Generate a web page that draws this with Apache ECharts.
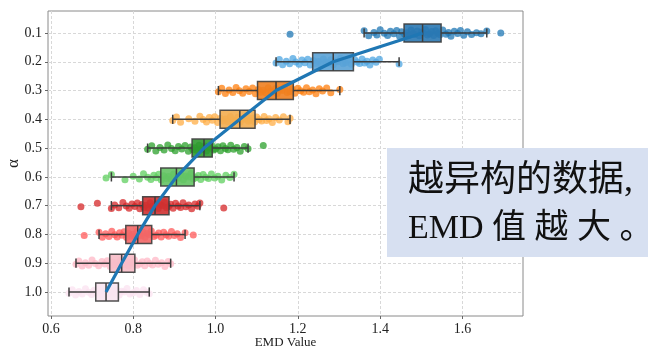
<!DOCTYPE html>
<html><head><meta charset="utf-8">
<script src="https://cdn.jsdelivr.net/npm/echarts@6/dist/echarts.min.js"></script>
<style>html,body{margin:0;padding:0;background:#fff}#c{width:648px;height:347px}</style>
</head><body><div id="c"></div>
<script>
// ---------- data ----------
const alphas = [0.1, 0.2, 0.3, 0.4, 0.5, 0.6, 0.7, 0.8, 0.9, 1.0];
const xTicks = [0.6, 0.8, 1.0, 1.2, 1.4, 1.6];

const boxLow  = [1.361, 1.147, 1.007, 0.896, 0.835, 0.747, 0.747, 0.717, 0.661, 0.644];
const boxQ1   = [1.458, 1.236, 1.102, 1.011, 0.943, 0.867, 0.823, 0.782, 0.743, 0.709];
const boxMed  = [1.503, 1.286, 1.147, 1.059, 0.972, 0.905, 0.853, 0.811, 0.772, 0.734];
const boxQ3   = [1.548, 1.335, 1.189, 1.096, 0.992, 0.948, 0.887, 0.845, 0.804, 0.764];
const boxHigh = [1.659, 1.446, 1.302, 1.181, 1.079, 1.045, 0.962, 0.926, 0.891, 0.839];

const pts01 = [1.181, 1.361, 1.372, 1.385, 1.392, 1.400, 1.410, 1.418, 1.425, 1.433, 1.440, 1.447, 1.452, 1.460, 1.465, 1.470, 1.475, 1.480, 1.485, 1.490, 1.495, 1.500, 1.505, 1.510, 1.515, 1.520, 1.525, 1.530, 1.535, 1.540, 1.545, 1.552, 1.560, 1.566, 1.572, 1.580, 1.588, 1.595, 1.603, 1.612, 1.622, 1.634, 1.645, 1.659, 1.693];
const pts02 = [1.147, 1.155, 1.163, 1.172, 1.180, 1.188, 1.195, 1.203, 1.210, 1.217, 1.224, 1.230, 1.238, 1.244, 1.250, 1.256, 1.262, 1.268, 1.274, 1.280, 1.286, 1.292, 1.298, 1.304, 1.310, 1.316, 1.322, 1.330, 1.338, 1.344, 1.350, 1.356, 1.362, 1.368, 1.375, 1.382, 1.390, 1.398, 1.446];
const pts03 = [1.007, 1.015, 1.024, 1.033, 1.042, 1.050, 1.058, 1.066, 1.074, 1.082, 1.090, 1.097, 1.104, 1.110, 1.116, 1.122, 1.128, 1.134, 1.140, 1.146, 1.150, 1.156, 1.162, 1.168, 1.174, 1.180, 1.186, 1.193, 1.200, 1.207, 1.214, 1.221, 1.228, 1.236, 1.244, 1.252, 1.260, 1.270, 1.280, 1.302];
const pts04 = [0.896, 0.905, 0.915, 0.935, 0.950, 0.962, 0.970, 0.978, 0.985, 0.992, 0.998, 1.005, 1.012, 1.018, 1.024, 1.030, 1.036, 1.042, 1.048, 1.054, 1.060, 1.065, 1.070, 1.075, 1.080, 1.085, 1.090, 1.095, 1.100, 1.106, 1.112, 1.118, 1.124, 1.130, 1.138, 1.146, 1.155, 1.165, 1.176, 1.181];
const pts05 = [0.835, 0.845, 0.855, 0.865, 0.875, 0.884, 0.893, 0.902, 0.910, 0.918, 0.926, 0.934, 0.940, 0.945, 0.950, 0.955, 0.960, 0.965, 0.970, 0.974, 0.978, 0.982, 0.986, 0.990, 0.995, 1.000, 1.006, 1.012, 1.018, 1.024, 1.030, 1.037, 1.044, 1.052, 1.060, 1.070, 1.079, 1.116];
const pts06 = [0.734, 0.747, 0.780, 0.800, 0.815, 0.825, 0.835, 0.843, 0.850, 0.856, 0.862, 0.868, 0.874, 0.880, 0.886, 0.892, 0.898, 0.904, 0.910, 0.916, 0.922, 0.928, 0.934, 0.940, 0.946, 0.952, 0.958, 0.964, 0.970, 0.976, 0.983, 0.990, 0.998, 1.006, 1.015, 1.025, 1.035, 1.045];
const pts07 = [0.673, 0.713, 0.747, 0.755, 0.765, 0.775, 0.783, 0.790, 0.797, 0.804, 0.810, 0.816, 0.821, 0.826, 0.831, 0.836, 0.841, 0.846, 0.851, 0.856, 0.861, 0.866, 0.871, 0.876, 0.881, 0.886, 0.891, 0.897, 0.903, 0.909, 0.915, 0.921, 0.928, 0.935, 0.942, 0.950, 0.957, 0.962, 1.020];
const pts08 = [0.681, 0.717, 0.725, 0.733, 0.741, 0.748, 0.755, 0.761, 0.767, 0.773, 0.778, 0.784, 0.789, 0.794, 0.799, 0.804, 0.809, 0.814, 0.819, 0.824, 0.829, 0.834, 0.839, 0.844, 0.850, 0.856, 0.862, 0.868, 0.874, 0.880, 0.886, 0.893, 0.900, 0.907, 0.915, 0.926, 0.946];
const pts09 = [0.661, 0.668, 0.676, 0.684, 0.692, 0.700, 0.708, 0.716, 0.724, 0.731, 0.737, 0.744, 0.749, 0.754, 0.759, 0.764, 0.769, 0.774, 0.779, 0.784, 0.789, 0.794, 0.799, 0.803, 0.810, 0.816, 0.822, 0.828, 0.834, 0.840, 0.847, 0.854, 0.861, 0.869, 0.877, 0.885, 0.891];
const pts10 = [0.644, 0.652, 0.660, 0.668, 0.676, 0.684, 0.692, 0.699, 0.705, 0.710, 0.715, 0.720, 0.725, 0.730, 0.735, 0.740, 0.745, 0.750, 0.755, 0.760, 0.766, 0.772, 0.778, 0.785, 0.792, 0.800, 0.808, 0.816, 0.825, 0.832, 0.839];
const points = [pts01, pts02, pts03, pts04, pts05, pts06, pts07, pts08, pts09, pts10];

// vertical strip jitter (alpha units), read as small scatter around each row
const jitter = [0.004, -0.008, 0.010, -0.002, 0.007, -0.011, 0.001, 0.009, -0.006, 0.003, -0.009, 0.011, -0.004, 0.006, -0.001, 0.008, -0.010, 0.002, 0.005, -0.007, 0.010, -0.003, 0.000, -0.012, 0.007, 0.003, -0.005, 0.009, -0.008, 0.001, 0.006, -0.010, 0.004, -0.002, 0.011, -0.006, 0.002, -0.009, 0.008, -0.004, 0.005, -0.001, 0.003, -0.007, 0.000];

// ---------- style ----------
const ptColors  = ['#1f77b4', '#4ea6e2', '#ff7f0e', '#ffad45', '#2ca02c', '#5fcf5f', '#d62728', '#ff5a5a', '#ffb7c5', '#fbe2f0'];
const boxColors = ['#2a78b2', '#5aa2d6', '#ee8020', '#f2ad50', '#2f9a2f', '#64c364', '#cf3131', '#f26767', '#f7bcc8', '#f9e6f1'];

const series = [];
points.forEach((arr, i) => {
  series.push({
    type: 'scatter', z: 2, silent: true,
    symbolSize: 7,
    itemStyle: { color: ptColors[i], opacity: 0.75 },
    data: arr.map((x, k) => [x, alphas[i] + jitter[k % jitter.length]])
  });
});

series.push({
  type: 'custom', z: 3, silent: true,
  data: alphas.map((a, i) => [a, boxLow[i], boxQ1[i], boxMed[i], boxQ3[i], boxHigh[i], i]),
  encode: { x: [1, 2, 3, 4, 5], y: 0 },
  renderItem: function (params, api) {
    const a = api.value(0);
    const idx = api.value(6);
    const h = api.size([0, 0.0625])[1];
    const capH = api.size([0, 0.032])[1];
    const pLow = api.coord([api.value(1), a]);
    const pQ1 = api.coord([api.value(2), a]);
    const pMed = api.coord([api.value(3), a]);
    const pQ3 = api.coord([api.value(4), a]);
    const pHigh = api.coord([api.value(5), a]);
    const ls = { stroke: '#3d3d3d', lineWidth: 1.5 };
    const y = pMed[1];
    return {
      type: 'group',
      children: [
        { type: 'line', shape: { x1: pLow[0], y1: y, x2: pQ1[0], y2: y }, style: ls },
        { type: 'line', shape: { x1: pQ3[0], y1: y, x2: pHigh[0], y2: y }, style: ls },
        { type: 'line', shape: { x1: pLow[0], y1: y - capH / 2, x2: pLow[0], y2: y + capH / 2 }, style: ls },
        { type: 'line', shape: { x1: pHigh[0], y1: y - capH / 2, x2: pHigh[0], y2: y + capH / 2 }, style: ls },
        { type: 'rect', shape: { x: pQ1[0], y: y - h / 2, width: pQ3[0] - pQ1[0], height: h },
          style: { fill: boxColors[idx], opacity: 0.9, stroke: '#3d3d3d', lineWidth: 1.5 } },
        { type: 'line', shape: { x1: pMed[0], y1: y - h / 2, x2: pMed[0], y2: y + h / 2 }, style: ls }
      ]
    };
  }
});

series.push({
  type: 'line', z: 4, silent: true,
  showSymbol: false, symbol: 'none',
  lineStyle: { color: '#1f77b4', width: 3.2 },
  data: boxMed.map((m, i) => [m, alphas[i]])
});

const serif = '"Liberation Serif", "Times New Roman", serif';
const chart = echarts.init(document.getElementById('c'), null, { renderer: 'canvas' });
chart.setOption({
  animation: false,
  backgroundColor: '#ffffff',
  grid: { left: 48, right: 125, top: 11, bottom: 31, outerBoundsMode: 'none', containLabel: false,
          show: true, borderColor: '#8a8a8a', borderWidth: 1, backgroundColor: 'transparent' },
  xAxis: {
    type: 'value', min: 0.593, max: 1.747,
    axisLine: { show: false },
    axisTick: { show: true, customValues: xTicks, length: 3, lineStyle: { color: '#666' } },
    axisLabel: { customValues: xTicks, formatter: v => v.toFixed(1), fontFamily: serif, fontSize: 14, color: '#222', margin: 6 },
    splitLine: { show: true, lineStyle: { color: '#d8d8d8', type: [3, 2], width: 1 } },
    name: 'EMD Value', nameLocation: 'middle', nameGap: 20, nameMoveOverlap: false,
    nameTextStyle: { fontFamily: serif, fontSize: 13, color: '#222' }
  },
  yAxis: {
    type: 'value', inverse: true, min: 0.0236, max: 1.0834,
    axisLine: { show: false },
    axisTick: { show: true, customValues: alphas, length: 3, lineStyle: { color: '#666' } },
    axisLabel: { customValues: alphas, formatter: v => v.toFixed(1), fontFamily: serif, fontSize: 14, color: '#222', margin: 6 },
    splitLine: { show: true, lineStyle: { color: '#d8d8d8', type: [3, 2], width: 1 } },
    name: 'α', nameLocation: 'middle', nameGap: 26, nameRotate: 90, nameMoveOverlap: false,
    nameTextStyle: { fontFamily: serif, fontSize: 17, color: '#222' }
  },
  series: series,
  graphic: [
    { type: 'rect', z: 100, shape: { x: 387, y: 148, width: 280, height: 109 }, style: { fill: '#d7e0f1' } },
    { type: 'text', z: 101, x: 408, y: 182,
      style: { text: '越异构的数据,', font: '36px "Liberation Serif", "Noto Sans CJK SC"', fill: '#111', verticalAlign: 'middle' } },
    { type: 'text', z: 101, x: 408, y: 229,
      style: { text: 'EMD 值 越 大 。', font: '34px "Liberation Serif", "Noto Sans CJK SC"', fill: '#111', verticalAlign: 'middle' } }
  ]
});
</script>
</body></html>
